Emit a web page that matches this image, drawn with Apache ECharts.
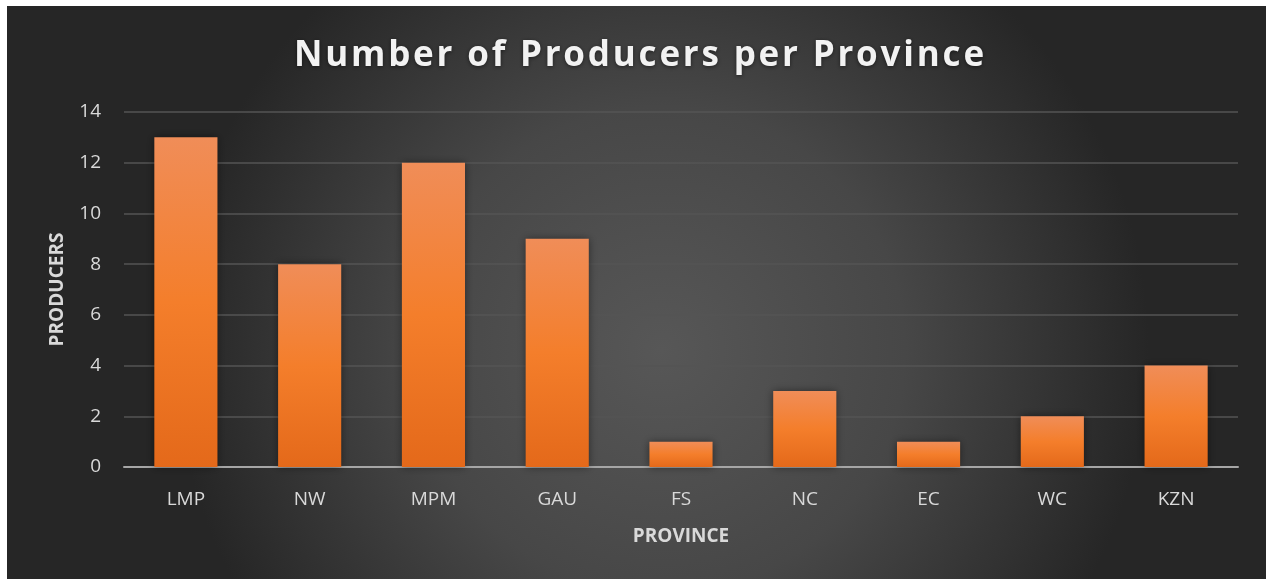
<!DOCTYPE html>
<html>
<head>
<meta charset="utf-8">
<style>
html,body{margin:0;padding:0;background:#ffffff;}
#chart{width:1266px;height:579px;}
</style>
<script src="https://cdn.jsdelivr.net/npm/echarts@6/dist/echarts.min.js"></script>
</head>
<body>
<div id="chart"></div>
<script>
const categories = ['LMP', 'NW', 'MPM', 'GAU', 'FS', 'NC', 'EC', 'WC', 'KZN'];
const producers = [13, 8, 12, 9, 1, 3, 1, 2, 4];
const titleText = 'Number of Producers per Province';
const xName = 'PROVINCE';
const yName = 'PRODUCERS';

// letter spacing for the title text (canvas letterSpacing)
(function () {
  const proto = CanvasRenderingContext2D.prototype;
  const origFill = proto.fillText;
  const origStroke = proto.strokeText;
  function wrap(orig) {
    return function (text, x, y, maxW) {
      if (text === titleText && 'letterSpacing' in this) {
        const prev = this.letterSpacing;
        this.letterSpacing = '2.8px';
        const r = maxW === undefined ? orig.call(this, text, x + 1.4, y) : orig.call(this, text, x + 1.4, y, maxW);
        this.letterSpacing = prev;
        return r;
      }
      return maxW === undefined ? orig.call(this, text, x, y) : orig.call(this, text, x, y, maxW);
    };
  }
  proto.fillText = wrap(origFill);
  proto.strokeText = wrap(origStroke);
})();

const chart = echarts.init(document.getElementById('chart'));
const labelFont = 'Open Sans';
chart.setOption({
  animation: false,
  graphic: [{
    type: 'rect',
    z: -10,
    silent: true,
    shape: { x: 7, y: 6, width: 1259, height: 573 },
    style: {
      fill: new echarts.graphic.RadialGradient(0.52, 0.6, 0.85, [
        { offset: 0, color: '#575757' },
        { offset: 0.5, color: '#474747' },
        { offset: 1, color: '#262626' }
      ])
    }
  }],
  title: {
    text: titleText,
    left: 634,
    textAlign: 'center',
    top: 34,
    textStyle: {
      color: '#f2f2f2',
      fontSize: 35,
      fontWeight: 'bold',
      fontFamily: 'Open Sans',
      textShadowBlur: 4,
      textShadowColor: 'rgba(0,0,0,0.5)',
      textShadowOffsetY: 1
    }
  },
  grid: { left: 124, right: 28, top: 112, bottom: 112 },
  xAxis: {
    type: 'category',
    data: categories,
    name: xName,
    nameLocation: 'middle',
    nameGap: 60,
    nameTextStyle: { color: '#d9d9d9', fontSize: 19, fontWeight: 'bold', fontFamily: labelFont, verticalAlign: 'top' },
    axisLine: { lineStyle: { color: '#a6a6a6', width: 2 } },
    axisTick: { show: false },
    axisLabel: { color: '#d9d9d9', fontSize: 19, margin: 23, fontFamily: labelFont }
  },
  yAxis: {
    type: 'value',
    min: 0,
    max: 14,
    interval: 2,
    name: yName,
    nameLocation: 'middle',
    nameRotate: 90,
    nameGap: 57,
    nameTextStyle: { color: '#d9d9d9', fontSize: 19, fontWeight: 'bold', fontFamily: labelFont },
    axisLine: { show: false },
    axisTick: { show: false },
    axisLabel: { color: '#d9d9d9', fontSize: 19, margin: 23, fontFamily: labelFont },
    splitLine: { lineStyle: { color: '#555555', width: 1.5 } }
  },
  series: [{
    type: 'bar',
    data: producers,
    barWidth: '51%',
    itemStyle: {
      color: new echarts.graphic.LinearGradient(0, 0, 0, 1, [
        { offset: 0, color: '#f08d58' },
        { offset: 0.5, color: '#f47e2b' },
        { offset: 1, color: '#e4691a' }
      ]),
      shadowBlur: 8,
      shadowColor: 'rgba(0,0,0,0.45)',
      shadowOffsetX: 0,
      shadowOffsetY: 0
    }
  }]
});
</script>
</body>
</html>
